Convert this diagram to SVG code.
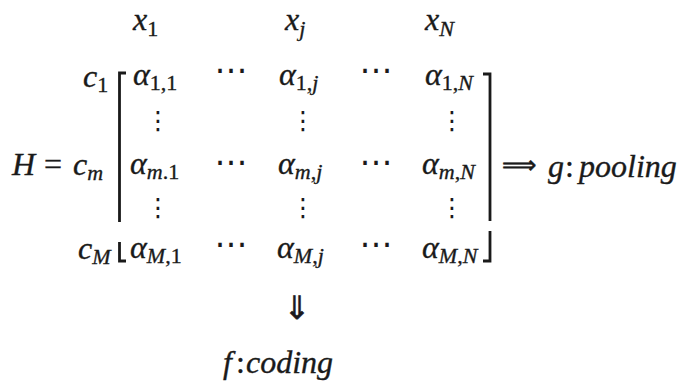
<svg xmlns="http://www.w3.org/2000/svg" width="684" height="385" viewBox="0 0 684 385">
<style>
.m{font-family:"Liberation Serif","DejaVu Serif",serif;font-style:italic;font-size:32px;fill:#1a1a1a;stroke:#1a1a1a;stroke-width:0.35}
.s{font-size:22px}
.u{font-style:normal}
.d{font-family:"DejaVu Sans",sans-serif;font-size:33px;fill:#1a1a1a}
.v{font-family:"DejaVu Sans",sans-serif;font-size:25px;fill:#1a1a1a}
.ar{font-family:"DejaVu Sans",sans-serif;fill:#1a1a1a;stroke:#1a1a1a;stroke-width:0.6}
.br{fill:none;stroke:#1a1a1a;stroke-width:2.8}
</style>
<rect width="684" height="385" fill="#ffffff"/>
<g id="headers">
<text class="m" x="133" y="30">x<tspan class="s u" dy="6">1</tspan></text>
<text class="m" x="285" y="30">x<tspan class="s" dy="6">j</tspan></text>
<text class="m" x="425" y="30">x<tspan class="s" dy="6">N</tspan></text>
</g>
<g id="rowlabels">
<text class="m" x="83" y="87">c<tspan class="s u" dy="5">1</tspan></text>
<text class="m" x="12" y="175">H</text>
<text class="m u" x="44" y="175">=</text>
<text class="m" x="73" y="175">c<tspan class="s" dy="5">m</tspan></text>
<text class="m" x="78" y="259">c<tspan class="s" dy="5">M</tspan></text>
</g>
<g id="matrix">
<text class="m" x="133" y="85">α<tspan class="s u" dy="5">1,1</tspan></text>
<text class="m" x="279" y="85">α<tspan class="s" dy="5"><tspan class="u">1,</tspan>j</tspan></text>
<text class="m" x="425" y="85">α<tspan class="s" dy="5"><tspan class="u">1,</tspan>N</tspan></text>
<text class="m" x="130" y="174">α<tspan class="s" dy="5">m<tspan class="u">.1</tspan></tspan></text>
<text class="m" x="278" y="174">α<tspan class="s" dy="5">m<tspan class="u">,</tspan>j</tspan></text>
<text class="m" x="422" y="174">α<tspan class="s" dy="5">m<tspan class="u">,</tspan>N</tspan></text>
<text class="m" x="130" y="258">α<tspan class="s" dy="5">M<tspan class="u">,1</tspan></tspan></text>
<text class="m" x="277" y="258">α<tspan class="s" dy="5">M<tspan class="u">,</tspan>j</tspan></text>
<text class="m" x="422" y="258">α<tspan class="s" dy="5">M<tspan class="u">,</tspan>N</tspan></text>
<text class="d" x="231" y="81" text-anchor="middle">⋯</text>
<text class="d" x="376" y="81" text-anchor="middle">⋯</text>
<text class="d" x="231" y="173" text-anchor="middle">⋯</text>
<text class="d" x="376" y="173" text-anchor="middle">⋯</text>
<text class="d" x="231" y="255" text-anchor="middle">⋯</text>
<text class="d" x="376" y="255" text-anchor="middle">⋯</text>
<text class="v" x="158" y="129" text-anchor="middle">⋮</text>
<text class="v" x="303" y="129" text-anchor="middle">⋮</text>
<text class="v" x="452" y="129" text-anchor="middle">⋮</text>
<text class="v" x="158" y="216" text-anchor="middle">⋮</text>
<text class="v" x="303" y="216" text-anchor="middle">⋮</text>
<text class="v" x="452" y="216" text-anchor="middle">⋮</text>
</g>
<g id="brackets">
<path class="br" d="M126,73 H119.5 V222 M119.5,242 V261 H126"/>
<path class="br" d="M483,74 H490 V221 M490,231 V261 H483"/>
</g>
<g id="connectors">
<text class="ar" x="502" y="173" style="font-size:24px">⟹</text>
<text class="ar" x="297" y="319" text-anchor="middle" style="font-size:32px">⇓</text>
</g>
<g id="pooling">
<text class="m" x="548" y="177">g</text>
<text class="m u" x="565" y="177">:</text>
<text class="m" x="579" y="177">pooling</text>
</g>
<g id="coding">
<text class="m" x="223" y="373">f</text>
<text class="m u" x="236" y="373">:</text>
<text class="m" x="246" y="373">coding</text>
</g>
</svg>
